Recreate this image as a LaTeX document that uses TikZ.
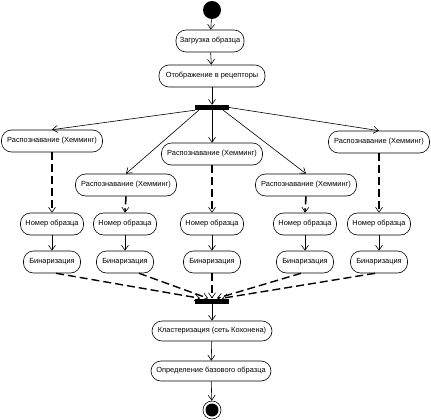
\documentclass[tikz,border=0pt]{standalone}
\usepackage{fontspec}
\setmainfont{Liberation Sans}
\usetikzlibrary{arrows.meta}
\begin{document}
\begin{tikzpicture}[x=1pt,y=-1pt,
  act/.style={draw,line width=0.6pt,rounded corners=10pt,minimum height=22pt,inner sep=1pt,font=\fontsize{7.4}{8}\selectfont},
  bar/.style={fill=black,draw=none,minimum width=34pt,minimum height=5pt,inner sep=0pt},
  flow/.style={line width=0.6pt,-{Straight Barb[length=5pt,width=7pt,line width=0.6pt]}},
  dflow/.style={line width=1.6pt,dash pattern=on 8pt off 4pt,-{Straight Barb[length=5pt,width=7pt,line width=0.6pt]}},
  dline/.style={line width=1.4pt,dash pattern=on 8pt off 4pt,-{Straight Barb[length=5pt,width=7pt,line width=0.6pt]}}]
\useasboundingbox (0,0) rectangle (431,420);
\node[circle,fill=black,minimum size=18pt,inner sep=0pt] (start) at (212,10) {};
\node[act,minimum width=68pt] (load) at (210,41) {Загрузка образца};
\node[act,minimum width=106pt] (map) at (212,76) {Отображение в рецепторы};
\node[bar] (fork) at (212,107.5) {};
\node[act,minimum width=101pt] (r1) at (52,141) {Распознавание (Хемминг)};
\node[act,minimum width=101pt] (r2) at (126,185) {Распознавание (Хемминг)};
\node[act,minimum width=101pt] (r3) at (212,154) {Распознавание (Хемминг)};
\node[act,minimum width=101pt] (r4) at (306,185) {Распознавание (Хемминг)};
\node[act,minimum width=101pt] (r5) at (379,142) {Распознавание (Хемминг)};
\foreach \i/\x in {1/52,2/125,3/212,4/305,5/379}{
  \node[act,minimum width=63pt] (n\i) at (\x,224) {Номер образца};
  \node[act,minimum width=57pt] (b\i) at (\x,262) {Бинаризация};
}
\node[bar] (join) at (212,301) {};
\node[act,minimum width=120pt,minimum height=20pt] (clu) at (212,331) {Кластеризация (сеть Кохонена)};
\node[act,minimum width=120pt,minimum height=20pt] (def) at (211,371) {Определение базового образца};
\node[circle,draw,line width=0.6pt,minimum size=18pt,inner sep=0pt] (end) at (212,410) {};
\node[circle,fill=black,minimum size=13pt,inner sep=0pt] (endin) at (end.center) {};
\draw[flow] (start) -- (load);
\draw[flow] (load) -- (map);
\draw[flow] (map) -- (fork);
\draw[flow] (fork.south west) -- (r1.north);
\draw[flow] ([xshift=4pt]fork.south west) -- (r2.north);
\draw[flow] (fork.south) -- (r3.north);
\draw[flow] ([xshift=-6pt]fork.south east) -- (r4.north);
\draw[flow] (fork.east) -- (r5.north);
\foreach \i in {1,...,5}{
  \draw[dflow] (r\i.south) -- (n\i.north);
  \draw[flow] (n\i) -- (b\i);
}
\draw[dline] ([xshift=4pt]b1.south) -- ([xshift=-12pt]join.north);
\draw[dline] ([xshift=14pt]b2.south) -- ([xshift=-4pt]join.north);
\draw[dline] (b3.south) -- (join.north);
\draw[dline] ([xshift=-4pt]b4.south) -- ([xshift=5pt]join.north);
\draw[dline] ([xshift=-4pt]b5.south) -- ([xshift=10pt]join.north);
\draw[flow] (join) -- (clu);
\draw[flow] (clu) -- (def);
\draw[flow] (def) -- (end);
\end{tikzpicture}
\end{document}
